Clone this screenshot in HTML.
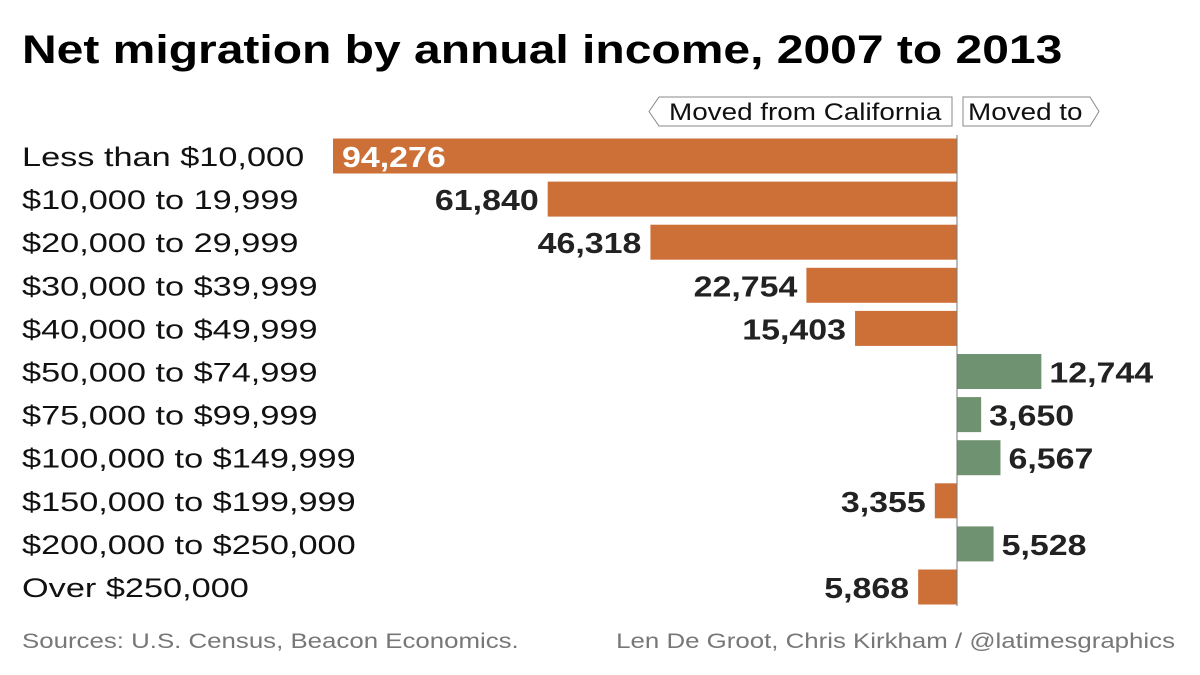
<!DOCTYPE html>
<html><head><meta charset="utf-8"><style>
body{margin:0;background:#fff;}
svg{display:block;font-family:"Liberation Sans",Arial,sans-serif;}
</style></head><body>
<svg id="chart" width="1200" height="675">
<text class="st" data-f="1.2" x="22" y="63" font-size="40" font-weight="bold" fill="#000">Net migration by annual income, 2007 to 2013</text>
<g>
<path d="M659,97 L952,97 L952,126 L659,126 L649,111.5 Z" fill="#fff" stroke="#888" stroke-width="1"/>
<text class="st" data-f="1.16" x="669" y="120" font-size="24" fill="#111">Moved from California</text>
<path d="M963,97 L1090,97 L1099,111.5 L1090,126 L963,126 Z" fill="#fff" stroke="#888" stroke-width="1"/>
<text class="st" data-f="1.16" x="968" y="120" font-size="24" fill="#111">Moved to</text>
</g>
<g id="bars"></g>
<line x1="957" y1="135" x2="957" y2="606" stroke="#777" stroke-width="1"/>
<text class="st" data-f="1.23" x="22" y="648" font-size="21" fill="#777">Sources: U.S. Census, Beacon Economics.</text>
<text class="st" data-f="1.23" data-end="1175" x="617" y="648" font-size="21" fill="#777">Len De Groot, Chris Kirkham / @latimesgraphics</text>
</svg>
<script>
const categories=["Less than $10,000","$10,000 to 19,999","$20,000 to 29,999","$30,000 to $39,999","$40,000 to $49,999","$50,000 to $74,999","$75,000 to $99,999","$100,000 to $149,999","$150,000 to $199,999","$200,000 to $250,000","Over $250,000"];
const values=[-94276,-61840,-46318,-22754,-15403,12744,3650,6567,-3355,5528,-5868];
const labels=["94,276","61,840","46,318","22,754","15,403","12,744","3,650","6,567","3,355","5,528","5,868"];
const NS="http://www.w3.org/2000/svg";
const g=document.getElementById('bars');
const x0=957, k=624/94276;
function xs(v){return x0+v*k;}
function yc(i){return 156+i*43.1;}
function stretch(t,f){
  const w=t.getComputedTextLength()*f;
  t.setAttribute('textLength',w);
  t.setAttribute('lengthAdjust','spacingAndGlyphs');
  return w;
}
categories.forEach((c,i)=>{
  const v=values[i], y=yc(i);
  const t=document.createElementNS(NS,'text');
  t.setAttribute('x',22);t.setAttribute('y',y+10);t.setAttribute('font-size','27');t.setAttribute('fill','#111');
  t.textContent=c;
  
  
  g.appendChild(t);
  stretch(t,1.27);
  const r=document.createElementNS(NS,'rect');
  const a=Math.min(xs(v),x0), w=Math.abs(xs(v)-x0);
  r.setAttribute('x',a);r.setAttribute('y',y-17.5);r.setAttribute('width',w);r.setAttribute('height',35);
  r.setAttribute('fill',v<0?'#CD7038':'#6F9270');
  
  
  g.appendChild(r);
  const l=document.createElementNS(NS,'text');
  l.setAttribute('y',y+11);l.setAttribute('font-size','29');l.setAttribute('font-weight','bold');
  l.setAttribute('fill',i===0?'#fff':'#222');
  l.textContent=labels[i];
  
  
  g.appendChild(l);
  const lw=stretch(l,1.17);
  if(i===0) l.setAttribute('x',a+9);
  else if(v<0) l.setAttribute('x',a-9-lw);
  else l.setAttribute('x',a+w+8);
});
document.querySelectorAll('.st').forEach(t=>{
  const w=stretch(t,parseFloat(t.getAttribute('data-f')));
  if(t.hasAttribute('data-end')) t.setAttribute('x',parseFloat(t.getAttribute('data-end'))-w);
});
</script>
</body></html>
